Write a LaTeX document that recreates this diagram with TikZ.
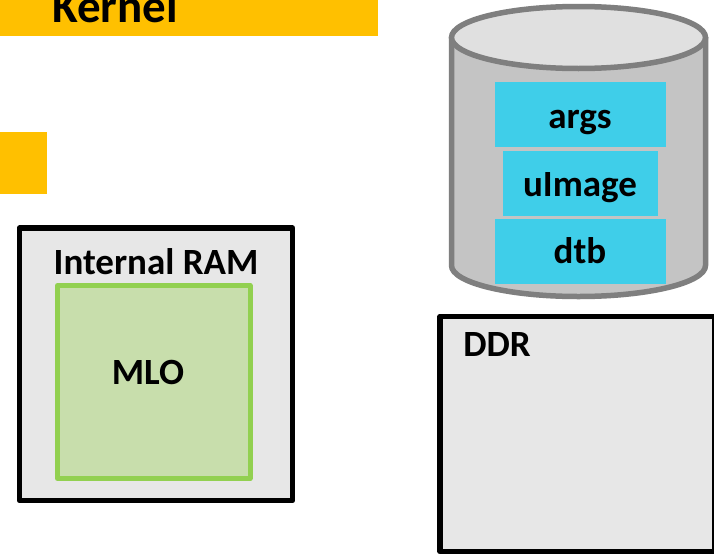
\documentclass[tikz,border=0pt]{standalone}
\usepackage{fontspec}
\setmainfont{Carlito}
\definecolor{amber}{HTML}{FFC000}
\definecolor{panel}{HTML}{E7E7E7}
\definecolor{mlofill}{HTML}{C8DEAC}
\definecolor{mloedge}{HTML}{92D050}
\definecolor{cyl}{HTML}{C4C4C4}
\definecolor{cyltop}{HTML}{E0E0E0}
\definecolor{cyledge}{HTML}{7F7F7F}
\definecolor{cyan}{HTML}{3FCEE9}
\tikzset{
  x=1pt,y=-1pt,
  box/.style={rectangle,inner sep=0pt,outer sep=0pt,line join=round},
  amberbox/.style={box,fill=amber},
  panelbox/.style={box,draw=black,fill=panel,line width=5.5pt},
  mlobox/.style={box,draw=mloedge,fill=mlofill,line width=5pt},
  filebox/.style={box,fill=cyan},
  label/.style={anchor=base,inner sep=0pt,font=\fontsize{37}{37}\selectfont\bfseries,text=black}
}
\begin{document}
\begin{tikzpicture}
\useasboundingbox (0,0) rectangle (714,554);
\clip (0,0) rectangle (714,554);
\fill[white] (0,0) rectangle (714,554);
% amber blocks
\node[amberbox,minimum width=378pt,minimum height=56pt] (kernelbox) at (189,8) {};
\node[label,font=\fontsize{47}{47}\selectfont\bfseries] (kernel) at (115,22.5) {Kernel};
\node[amberbox,minimum width=47pt,minimum height=62pt] (amberlow) at (23.5,163) {};
% internal RAM
\node[panelbox,minimum width=273pt,minimum height=272.5pt] (ram) at (156,364.25) {};
\node[label] (ramlabel) at (156,274.2) {Internal RAM};
\node[mlobox,minimum width=192.5pt,minimum height=193pt] (mlo) at (153.75,382) {};
\node[label] (mlolabel) at (148,384.5) {MLO};
% cylinder
\draw[cyledge,fill=cyl,line width=5.5pt,line join=round]
  (451.5,37.5) -- (451.5,265.5)
  arc[start angle=180,end angle=360,x radius=127,y radius=-31]
  -- (705.5,37.5) -- cycle;
\draw[cyledge,fill=cyltop,line width=5.5pt] (578.5,37.5) ellipse[x radius=127,y radius=31];
\node[filebox,minimum width=171pt,minimum height=65pt] (args) at (580.5,114.5) {};
\node[label] at (580,128.5) {args};
\node[filebox,minimum width=155pt,minimum height=65pt] (uimage) at (580.5,183.5) {};
\node[label] at (580,196.5) {uImage};
\node[filebox,minimum width=171pt,minimum height=65pt] (dtb) at (580.5,251.5) {};
\node[label] at (580,263.5) {dtb};
% DDR
\node[panelbox,minimum width=275pt,minimum height=235pt] (ddr) at (577.5,434) {};
\node[label] (ddrlabel) at (497,356.5) {DDR};
\end{tikzpicture}
\end{document}
